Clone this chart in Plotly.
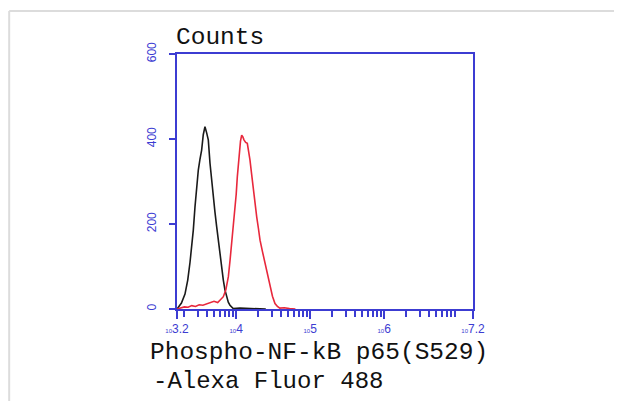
import plotly.graph_objects as go

# ---- data ----
black_log = [3.20, 3.218, 3.26, 3.308, 3.345, 3.376, 3.40, 3.42, 3.443, 3.465, 3.488, 3.51, 3.533, 3.555, 3.578,
             3.60, 3.623, 3.646, 3.668, 3.69, 3.713, 3.736, 3.758, 3.78, 3.803, 3.826, 3.848, 3.87,
             3.893, 3.916, 3.94, 3.96, 4.05, 4.2, 4.3, 4.4]
black_cnt = [0, 4, 14, 35, 68, 110, 145, 185, 240, 290, 327, 352, 374, 410, 429,
             415, 398, 343, 300, 264, 228, 194, 160, 131, 98, 68, 45, 29,
             16, 9, 4, 1, 2, 1, 2, 0]

red_log = [3.20, 3.25, 3.30, 3.35, 3.40, 3.45, 3.50, 3.55, 3.60, 3.646, 3.70, 3.75, 3.80, 3.826, 3.86,
           3.894, 3.917, 3.939, 3.962, 3.984, 4.0, 4.015, 4.03, 4.043, 4.058, 4.074, 4.09, 4.105,
           4.128, 4.15, 4.168, 4.186, 4.208, 4.231, 4.254, 4.277, 4.30, 4.322, 4.355, 4.389,
           4.423, 4.457, 4.49, 4.524, 4.557, 4.59, 4.65, 4.72, 4.8]
red_cnt = [0, 3, 5, 4, 8, 6, 10, 9, 12, 13, 18, 15, 24, 29, 45,
           76, 115, 155, 195, 233, 270, 311, 345, 374, 395, 409, 405, 398,
           392, 390, 372, 351, 318, 280, 248, 217, 190, 162, 135, 108,
           80, 52, 30, 13, 6, 2, 3, 1, 0]

x_tick_exp = [3.2, 4, 5, 6, 7.2]
x_tick_text = ["3.2", "4", "5", "6", "7.2"]
y_ticks = [0, 200, 400, 600]
minor_mult = [2, 3, 4, 5, 6, 7, 8, 9]
decades = [3, 4, 5, 6, 7]

x_title_lines = ["Phospho-NF-kB p65(S529)", "-Alexa Fluor 488"]
y_title = "Counts"

BLUE = "#3c3cd2"
MONO = "Liberation Mono, Courier New, monospace"

fig = go.Figure()
fig.add_trace(go.Scatter(x=[10 ** v for v in black_log], y=black_cnt, mode="lines",
                         line=dict(color="#1a1a1a", width=1.6), showlegend=False))
fig.add_trace(go.Scatter(x=[10 ** v for v in red_log], y=red_cnt, mode="lines",
                         line=dict(color="#e8283c", width=1.6), showlegend=False))

minor_vals = [m * 10 ** d for d in decades for m in minor_mult
              if 10 ** 3.2 < m * 10 ** d < 10 ** 7.2]

# the page body has an 8px default margin, so the figure is shrunk by that much
fig.update_layout(
    width=614, height=393,
    margin=dict(l=169, r=149, t=46, b=92),
    paper_bgcolor="white", plot_bgcolor="white",
    xaxis=dict(
        type="log", range=[3.2, 7.2],
        tickmode="array",
        tickvals=[10 ** v for v in x_tick_exp],
        ticktext=["<span style='font-size:6px'>10</span>" + t for t in x_tick_text],
        ticks="outside", ticklen=8, tickwidth=1.5, tickcolor=BLUE,
        minor=dict(tickmode="array", tickvals=minor_vals, ticks="outside",
                   ticklen=6, tickwidth=1.5, tickcolor=BLUE, showgrid=False),
        showline=True, linecolor=BLUE, linewidth=1.5, mirror=True,
        showgrid=False, zeroline=False,
        tickfont=dict(family="Liberation Sans, Arial", size=12, color=BLUE),
        tickangle=0,
    ),
    yaxis=dict(
        range=[0, 600], tickmode="array", tickvals=y_ticks,
        ticks="outside", ticklen=6, tickwidth=1.5, tickcolor=BLUE,
        showline=True, linecolor=BLUE, linewidth=1.5, mirror=True,
        showgrid=False, zeroline=False,
        tickangle=-90, ticklabelstandoff=8,
        tickfont=dict(family="Liberation Sans, Arial", size=12, color=BLUE),
    ),
    annotations=[
        dict(text=y_title, xref="paper", yref="paper", x=-0.01, y=1.065,
             xanchor="left", yanchor="middle", showarrow=False,
             font=dict(family=MONO, size=24.5, color="#111")),
        dict(text=x_title_lines[0], xref="paper", yref="paper", x=-0.098, y=-0.172,
             xanchor="left", yanchor="middle", align="left", showarrow=False,
             font=dict(family=MONO, size=24.5, color="#111")),
        dict(text=x_title_lines[1], xref="paper", yref="paper", x=-0.088, y=-0.286,
             xanchor="left", yanchor="middle", align="left", showarrow=False,
             font=dict(family=MONO, size=24, color="#111")),
    ],
    shapes=[
        dict(type="line", xref="paper", yref="paper", x0=-0.567, x1=1.6, y0=1.1686, y1=1.1686,
             line=dict(color="#dcdcdc", width=2)),
        dict(type="line", xref="paper", yref="paper", x0=-0.567, x1=-0.567, y0=1.1686, y1=-0.4,
             line=dict(color="#dcdcdc", width=2)),
    ],
)

fig.write_html("out.html")
